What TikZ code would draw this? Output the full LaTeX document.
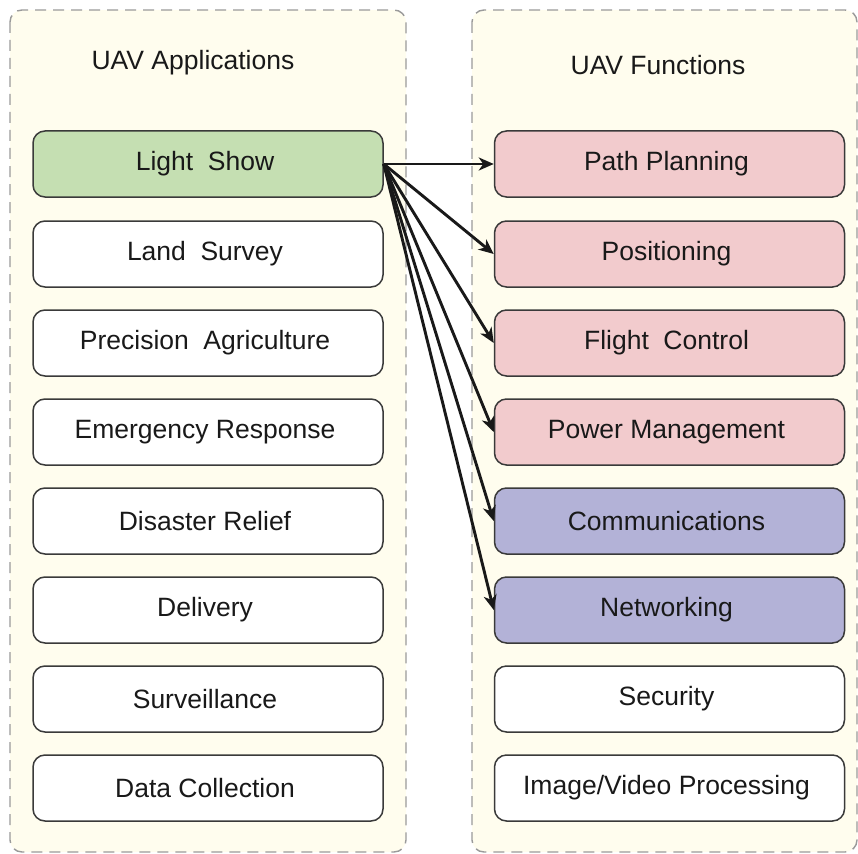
\documentclass[tikz,border=0pt]{standalone}
\usepackage{fontspec}
\setmainfont{Liberation Sans}
\usetikzlibrary{arrows.meta}
\definecolor{panelfill}{HTML}{FFFDEE}
\definecolor{panelline}{HTML}{9A9A9A}
\definecolor{boxline}{HTML}{3A3A3A}
\definecolor{greenfill}{HTML}{C5DFB2}
\definecolor{pinkfill}{HTML}{F2CBCD}
\definecolor{purplefill}{HTML}{B3B2D7}
\tikzset{
  panel/.style={draw=panelline, fill=panelfill, line width=1.4pt,
    dash pattern=on 11pt off 7pt, rounded corners=12pt},
  itembox/.style={draw=boxline, line width=1.5pt, rounded corners=12pt,
    minimum width=350pt, minimum height=66pt, inner sep=0pt,
    font=\fontsize{26.5}{30}\selectfont, text=black!90, fill=white,
    execute at end node=\hspace*{6pt}},
  greenbox/.style={itembox, fill=greenfill},
  pinkbox/.style={itembox, fill=pinkfill},
  purplebox/.style={itembox, fill=purplefill},
  heading/.style={font=\fontsize{26.5}{30}\selectfont, text=black!90, inner sep=0pt},
  link/.style={-{Stealth[length=15pt,width=13pt,inset=4.5pt]}, line width=2.9pt, black!90},
}
\newcommand{\wsp}{\hspace{0.55em}}
\begin{document}
\begin{tikzpicture}[x=1pt, y=-1pt]
  \useasboundingbox (0,0) rectangle (858,853);
  % the two column panels
  \draw[panel] (10,10) rectangle (406,852);
  \draw[panel] (472,10) rectangle (857,852);
  \node[heading] (happ) at (193,63) {UAV Applications};
  \node[heading] (hfun) at (658,65) {UAV Functions};
  % applications
  \node[greenbox] (ls) at (208,164) {Light\wsp Show};
  \node[itembox] (lsv) at (208,254) {Land\wsp Survey};
  \node[itembox] (pa) at (208,343) {Precision\wsp Agriculture};
  \node[itembox] (er) at (208,432) {Emergency Response};
  \node[itembox] (dr) at (208,521) {Disaster Relief};
  \node[itembox] (dl) at (208,610) {Delivery};
  \node[itembox] (sv) at (208,699) {Surveillance};
  \node[itembox] (dc) at (208,788) {Data Collection};
  % functions
  \node[pinkbox] (pp) at (669.5,164) {Path Planning};
  \node[pinkbox] (po) at (669.5,254) {Positioning};
  \node[pinkbox] (fc) at (669.5,343) {Flight\wsp Control};
  \node[pinkbox] (pm) at (669.5,432) {Power Management};
  \node[purplebox] (cm) at (669.5,521) {Communications};
  \node[purplebox] (nw) at (669.5,610) {Networking};
  \node[itembox] (se) at (669.5,699) {Security};
  \node[itembox] (ivp) at (669.5,788) {Image/Video Processing};
  % links from the light show to the functions it needs
  \foreach \t in {pp,po,fc,pm,cm,nw}
    \draw[link] (ls.east) -- (\t.west);
\end{tikzpicture}
\end{document}
